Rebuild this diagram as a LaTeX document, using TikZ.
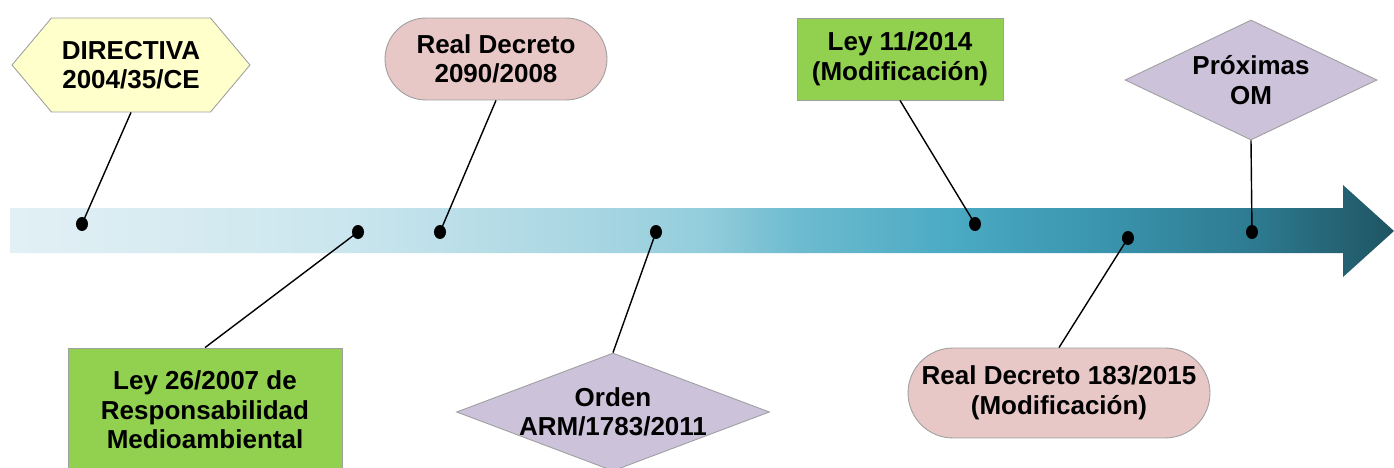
\documentclass[tikz,border=0pt]{standalone}
\usepackage{fontspec}
\setmainfont{Liberation Sans}
\usetikzlibrary{shapes.geometric,shapes.symbols}

%% colours of the timeline and of the boxes
\definecolor{tlA}{HTML}{E2F0F5}
\definecolor{tlB}{HTML}{CBE6EE}
\definecolor{tlC}{HTML}{A8D6E2}
\definecolor{tlD}{HTML}{94CDDC}
\definecolor{tlE}{HTML}{6DBBCF}
\definecolor{tlF}{HTML}{4BAAC4}
\definecolor{tlG}{HTML}{3A94AD}
\definecolor{tlH}{HTML}{2D7A90}
\definecolor{tlI}{HTML}{1F5462}
\definecolor{dirfill}{HTML}{FFFFCC}
\definecolor{rdfill}{HTML}{E8C7C7}
\definecolor{leyfill}{HTML}{92D050}
\definecolor{omfill}{HTML}{CCC2DA}

\pgfdeclarehorizontalshading{timeline}{100bp}{color(0bp)=(tlA); color(25bp)=(tlA);
  color(37bp)=(tlB); color(46bp)=(tlC); color(50bp)=(tlD); color(53.5bp)=(tlE);
  color(59bp)=(tlF); color(64.5bp)=(tlG); color(70bp)=(tlH); color(75bp)=(tlI);
  color(100bp)=(tlI)}

\begin{document}
\begin{tikzpicture}[x=0.02cm, y=-0.02cm,
  every node/.style={font=\fontsize{14.8}{16.8}\selectfont\bfseries, align=center},
  box/.style={draw=gray!75, line width=0.5pt},
  dirbox/.style={box, fill=dirfill, signal, signal to=west and east,
    signal pointer angle=100, inner sep=0pt},
  rdbox/.style={box, fill=rdfill, rectangle, inner sep=0pt},
  leybox/.style={box, fill=leyfill, rectangle, inner sep=0pt},
  ombox/.style={box, fill=omfill, diamond, inner sep=0pt, label=center:{#1}},
  link/.style={line width=0.8pt}]

\useasboundingbox (0,0) rectangle (1394,467);
\clip (0,0) rectangle (1394,467);
\fill[white] (0,0) rectangle (1394,467);

%% the arrow
\shade[shading=timeline] (10,208) -- (1343,208) -- (1343,185) -- (1394,231)
  -- (1343,277) -- (1343,253) -- (10,253) -- cycle;

%% dates on the arrow
\coordinate (d1) at (82,224);
\coordinate (d2) at (358,232);
\coordinate (d3) at (440,232);
\coordinate (d4) at (656,232);
\coordinate (d5) at (975,224);
\coordinate (d6) at (1128,238);
\coordinate (d7) at (1252,232);

%% above the arrow
\node[dirbox, minimum width=4.76cm, minimum height=1.88cm] (dir) at (131,65)
  {DIRECTIVA\\2004/35/CE};
\node[rdbox, minimum width=4.44cm, minimum height=1.64cm, rounded corners=0.82cm]
  (rd2090) at (496,59) {Real Decreto\\2090/2008};
\node[leybox, minimum width=4.12cm, minimum height=1.64cm] (ley11) at (900,59)
  {Ley 11/2014\\(Modificación)};
\node[ombox={Próximas\\OM}, minimum width=5.04cm, minimum height=2.4cm]
  (proximas) at (1251,80) {};

%% below the arrow
\node[leybox, minimum width=5.48cm, minimum height=2.48cm] (ley26) at (205,410)
  {Ley 26/2007 de\\Responsabilidad\\Medioambiental};
\node[ombox={Orden\\ARM/1783/2011}, minimum width=6.26cm, minimum height=2.36cm]
  (orden) at (613,412) {};
\node[rdbox, minimum width=6.04cm, minimum height=1.8cm, rounded corners=0.9cm]
  (rd183) at (1059,393) {Real Decreto 183/2015\\(Modificación)};

%% links
\draw[link] (dir.south) -- (d1);
\draw[link] (ley26.north) -- (d2);
\draw[link] (rd2090.south) -- (d3);
\draw[link] (orden.north) -- (d4);
\draw[link] (ley11.south) -- (d5);
\draw[link] (rd183.north) -- (d6);
\draw[link] (proximas.south) -- (d7);

\foreach \d in {d1,d2,d3,d4,d5,d6,d7}
  \fill (\d) ellipse (0.12cm and 0.14cm);

\end{tikzpicture}
\end{document}
